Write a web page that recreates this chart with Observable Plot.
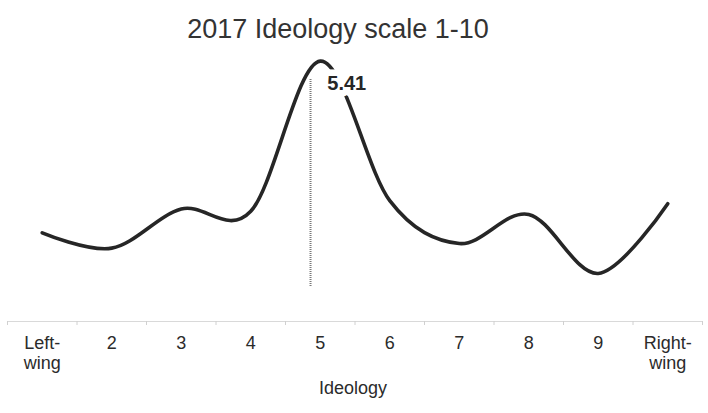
<!DOCTYPE html>
<html><head><meta charset="utf-8">
<script src="https://cdn.jsdelivr.net/npm/d3@7"></script>
<script src="https://cdn.jsdelivr.net/npm/@observablehq/plot@0.6"></script>
<style>body{margin:0;background:#fff}</style>
</head><body><div id="chart"></div>
<script>
const title = "2017 Ideology scale 1-10";
const xTitle = "Ideology";
const categories = [1, 2, 3, 4, 5, 6, 7, 8, 9, 10];
const tickLabels = ["Left-\nwing", "2", "3", "4", "5", "6", "7", "8", "9", "Right-\nwing"];
const shares = [7.0, 5.0, 10.1, 9.8, 29.4, 11.2, 5.6, 9.4, 1.7, 10.8];
const meanValue = 5.41;
const meanLabel = "5.41";
const meanLineX = 4.86;
const meanLineTop = 27.1;
const meanLabelY = 26.5;

const boundaries = [...categories.map(c => c - 0.5), categories[categories.length - 1] + 0.5];

const plot = Plot.plot({
  width: 708, height: 413,
  marginTop: 56, marginBottom: 92, marginLeft: 7, marginRight: 6,
  style: {fontFamily: "'Liberation Sans', Arial, sans-serif", background: "#fff", color: "#333"},
  x: {domain: [0.5, 10.5]},
  y: {domain: [-4.57, 30], axis: null},
  marks: [
    Plot.frame({anchor: "bottom", stroke: "#d9d9d9"}),
    Plot.axisX(boundaries, {tickSize: 4, tickFormat: () => "", stroke: "#d0d0d0", label: null}),
    Plot.axisX(categories, {tickSize: 0, tickPadding: 13, tickFormat: i => tickLabels[i - 1], fontSize: 18, lineHeight: 1.11, fill: "#2b2b2b", label: null}),
    Plot.ruleX([meanLineX], {y1: 0, y2: meanLineTop, stroke: "#7a7a7a", strokeWidth: 2, strokeDasharray: "1 1"}),
    Plot.line(categories, {x: d => d, y: (d, i) => shares[i], curve: "cardinal", tension: 0, stroke: "#262626", strokeWidth: 3.6, strokeLinecap: "round"}),
    Plot.text([meanLabel], {x: () => meanValue, y: () => meanLabelY, text: d => d, dx: -2, fontSize: 20, fontWeight: "bold", fill: "#262626", stroke: "white", strokeWidth: 13, paintOrder: "stroke", strokeLinejoin: "round"}),
    Plot.text([title], {frameAnchor: "top", text: d => d, dx: -17, dy: -38, fontSize: 27, fill: "#333"}),
    Plot.text([xTitle], {frameAnchor: "bottom", text: d => d, dx: -2, dy: 72, fontSize: 18, fill: "#2b2b2b"})
  ]
});
document.getElementById("chart").appendChild(plot);
</script>
</body></html>
